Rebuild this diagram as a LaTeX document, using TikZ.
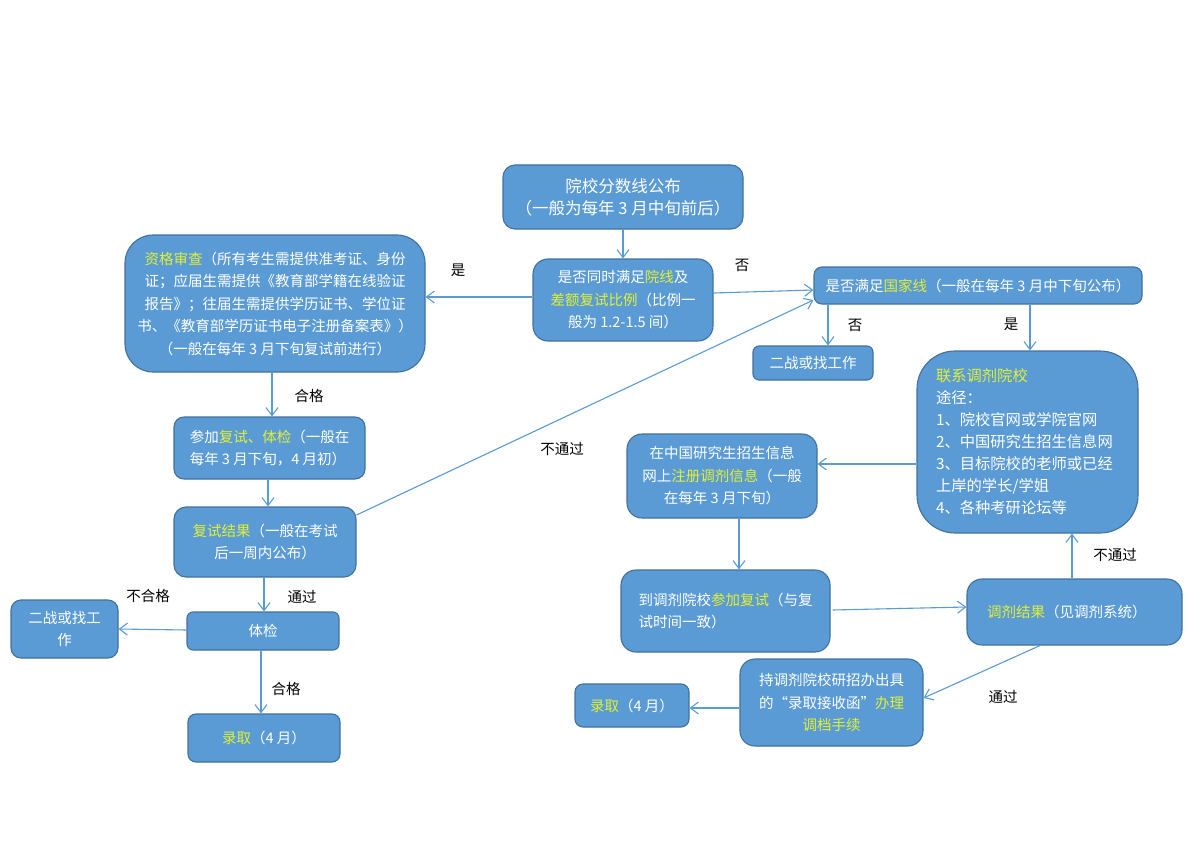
\documentclass[tikz,border=0pt]{standalone}
\usepackage{fontspec}
\setmainfont{Noto Sans CJK SC}
\usetikzlibrary{arrows.meta,calc}
\definecolor{boxfill}{RGB}{91,155,213}
\definecolor{boxline}{RGB}{65,113,156}
\definecolor{arrcol}{RGB}{91,155,213}
\definecolor{hlcol}{RGB}{225,240,50}
\newcommand{\hlt}[1]{\textcolor{hlcol}{#1}}
\begin{document}
\begin{tikzpicture}[x=1pt,y=-1pt,
 box/.style={draw=boxline, fill=boxfill, line width=1.1pt, text=white, inner sep=0pt, font=\fontsize{14.5}{22.5}\selectfont},
 arr/.style={draw=arrcol, line width=1.1pt, -{Straight Barb[length=8pt,width=12pt,line width=1.1pt]}},
 lbl/.style={font=\fontsize{14.5}{16}\selectfont, text=black, inner sep=0pt}]
\fill[white] (0,0) rectangle (1200,848);
\useasboundingbox (0,0) rectangle (1200,848);

% nodes
\node[box, rounded corners=12pt, minimum width=240pt, minimum height=64pt, align=center, font=\fontsize{16.5}{22}\selectfont] (top) at (623,197) {院校分数线公布\\（一般为每年 3 月中旬前后）};
\node[box, rounded corners=15pt, minimum width=180pt, minimum height=82pt, align=center] (dec) at (623,300) {是否同时满足\hlt{院线}及\\\hlt{差额复试比例}（比例一\\般为 1.2-1.5 间）};
\node[box, rounded corners=28pt, minimum width=300pt, minimum height=137pt, align=center] (big) at (275,303.5) {\hlt{资格审查}（所有考生需提供准考证、身份\\证；应届生需提供《教育部学籍在线验证\\报告》；往届生需提供学历证书、学位证\\书、《教育部学历证书电子注册备案表》）\\（一般在每年 3 月下旬复试前进行）};
\node[box, rounded corners=10pt, minimum width=191pt, minimum height=62pt, align=left] (join) at (269.5,448) {参加\hlt{复试、体检}（一般在\\每年 3 月下旬，4 月初）};
\node[box, rounded corners=12pt, minimum width=182pt, minimum height=70pt, align=center] (res) at (265,542) {\hlt{复试结果}（一般在考试\\后一周内公布）};
\node[box, rounded corners=6pt, minimum width=152pt, minimum height=38pt] (tj) at (263,631) {体检};
\node[box, rounded corners=10pt, minimum width=107pt, minimum height=58pt, align=center] (zl) at (64.5,629) {二战或找工\\作};
\node[box, rounded corners=8pt, minimum width=152pt, minimum height=48pt] (lq) at (264,738) {\hlt{录取}（4 月）};

\node[box, rounded corners=8pt, minimum width=328pt, minimum height=37pt] (nat) at (978,285.5) {是否满足\hlt{国家线}（一般在每年 3 月中下旬公布）};
\node[box, rounded corners=6pt, minimum width=120pt, minimum height=34pt] (zr) at (813,363) {二战或找工作};
\node[box, rounded corners=38pt, minimum width=221pt, minimum height=182pt, text width=183pt, align=left, font=\fontsize{15.3}{22}\selectfont] (lx) at (1027.5,442) {\hlt{联系调剂院校}\\途径：\\1、院校官网或学院官网\\2、中国研究生招生信息网\\3、目标院校的老师或已经\\上岸的学长/学姐\\4、各种考研论坛等};
\node[box, rounded corners=15pt, minimum width=190pt, minimum height=84pt, align=center] (zc) at (722,476) {在中国研究生招生信息\\网上\hlt{注册调剂信息}（一般\\在每年 3 月下旬）};
\node[box, rounded corners=15pt, minimum width=209pt, minimum height=82pt, align=left] (dt) at (725.5,611) {到调剂院校\hlt{参加复试}（与复\\试时间一致）};
\node[box, rounded corners=15pt, minimum width=215pt, minimum height=66pt, text width=175pt, align=left] (tr) at (1074.5,612) {\hlt{调剂结果}（见调剂系统）};
\node[box, rounded corners=15pt, minimum width=183pt, minimum height=87pt, align=center] (hz) at (831.5,702.5) {持调剂院校研招办出具\\的“录取接收函”\hlt{办理}\\\hlt{调档手续}};
\node[box, rounded corners=8pt, minimum width=114pt, minimum height=43pt] (lr) at (632,705.5) {\hlt{录取}（4 月）};

% connectors
\draw[arr] (top.south) -- (dec.north);
\draw[arr] ([yshift=3pt]dec.west) -- ([yshift=6.5pt]big.east);
\draw[arr] ([yshift=7pt]dec.east) -- ([yshift=-4.5pt]nat.west);
\draw[arr] ([xshift=-3pt]big.south) -- ([xshift=2.5pt]join.north);
\draw[arr] ([xshift=-1.5pt]join.south) -- ([xshift=3pt]res.north);
\draw[arr] ([yshift=27pt]res.east) -- ([yshift=-14.5pt]nat.west);
\draw[arr] ([xshift=-1pt]res.south) -- ([xshift=1pt]tj.north);
\draw[arr] ([yshift=1pt]tj.west) -- ([yshift=0pt]zl.east);
\draw[arr] ([xshift=-2pt]tj.south) -- ([xshift=-3pt]lq.north);
\draw[arr] ([xshift=-150pt]nat.south) -- ([xshift=15pt]zr.north);
\draw[arr] ([xshift=52pt]nat.south) -- ([xshift=2.5pt]lx.north);
\draw[arr] ([yshift=-22pt]lx.west) -- ([yshift=12pt]zc.east);
\draw[arr] ([xshift=17pt]zc.south) -- ([xshift=13.5pt]dt.north);
\draw[arr] ([xshift=2pt,yshift=1pt]dt.east) -- ([yshift=5pt]tr.west);
\draw[arr] ([xshift=-2.5pt]tr.north) -- ([xshift=44.5pt]lx.south);
\draw[arr] ([xshift=-34.5pt]tr.south) -- ([yshift=4.5pt]hz.east);
\draw[arr] ([yshift=-5.5pt]hz.west) -- ([yshift=-2.5pt]lr.east);

% labels
\node[lbl] (l1) at (458,270) {是};
\node[lbl] (l2) at (742,265) {否};
\node[lbl] (l3) at (309,396) {合格};
\node[lbl] (l4) at (562,449) {不通过};
\node[lbl] (l5) at (302,597) {通过};
\node[lbl] (l6) at (148,596) {不合格};
\node[lbl] (l7) at (286,689) {合格};
\node[lbl] (l8) at (855,325) {否};
\node[lbl] (l9) at (1011,324) {是};
\node[lbl] (l10) at (1115,555) {不通过};
\node[lbl] (l11) at (1003,697) {通过};
\end{tikzpicture}
\end{document}
